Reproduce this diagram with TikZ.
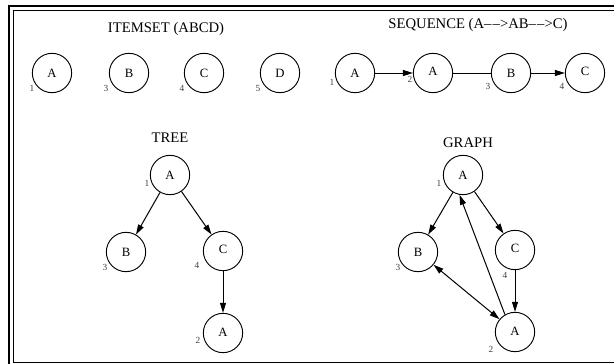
\documentclass[tikz,border=0pt]{standalone}
\usepackage{fontspec}
\setmainfont{Liberation Serif}
\usetikzlibrary{arrows.meta}
\newcommand{\ddash}{\textendash\kern0.9pt\textendash}
\begin{document}
\begin{tikzpicture}[x=0.75pt,y=-0.75pt,
  vtx/.style={circle,draw,line width=0.7pt,minimum size=29.5pt,inner sep=0pt,font=\fontsize{9.5}{11}\selectfont},
  num/.style={inner sep=0pt,font=\fontsize{7}{8}\selectfont,text=black!75},
  ttl/.style={inner sep=0pt,font=\fontsize{11}{13}\selectfont},
  edge/.style={line width=0.75pt},
  arr/.style={edge,-{Triangle[length=7.5pt,width=4.5pt]}},
  darr/.style={edge,{Triangle[length=7.5pt,width=4.5pt]}-{Triangle[length=7.5pt,width=4.5pt]}}]
\useasboundingbox (0,0) rectangle (614,364);
% frame
\draw[line width=1.9pt] (9,364) -- (9,6) -- (614,6);
\draw[line width=0.9pt] (614,10.5) -- (13.5,10.5) -- (13.5,362.5) -- (614,362.5);
% ITEMSET
\node[ttl] (t1) at (166,29) {ITEMSET (ABCD)};
\node[vtx] (iA) at (52,73) {A};
\node[vtx] (iB) at (129,73) {B};
\node[vtx] (iC) at (204,73) {C};
\node[vtx] (iD) at (280,73) {D};
\node[num] (n1) at (32,88) {1};
\node[num] (n2) at (106,88) {3};
\node[num] (n3) at (182,88) {4};
\node[num] (n4) at (258,88) {5};
% SEQUENCE
\node[ttl] (t2) at (478,25) {SEQUENCE (A\ddash>AB\ddash>C)};
\node[vtx] (sA) at (355,73) {A};
\node[vtx] (sA2) at (433,73) {\raisebox{2pt}{A}};
\node[vtx] (sB) at (511,73) {B};
\node[vtx] (sC) at (585,73) {\raisebox{2pt}{C}};
\node[num] (m1) at (332,82) {1};
\node[num] (m2) at (410,79) {2};
\node[num] (m3) at (488,86) {3};
\node[num] (m4) at (562,86) {4};
\draw[arr] (sA) -- (sA2);
\draw[edge] (sA2) -- (sB);
\draw[arr] (sB) -- (sC);
% TREE
\node[ttl] (t3) at (170,138) {TREE};
\node[vtx] (tA) at (170,175) {A};
\node[vtx] (tB) at (126,252) {B};
\node[vtx] (tC) at (223,251) {\raisebox{2pt}{C}};
\node[vtx] (tA2) at (223,333) {\raisebox{1pt}{A}};
\node[num] (k1) at (147,183) {1};
\node[num] (k3) at (105,267) {3};
\node[num] (k4) at (197,265) {4};
\node[num] (k2) at (198,340) {2};
\draw[arr] (tA) -- (tB);
\draw[arr] (tA) -- (tC);
\draw[arr] (tC) -- (tA2);
% GRAPH
\node[ttl] (t4) at (468,143) {GRAPH};
\node[vtx] (gA) at (463,175) {A};
\node[vtx] (gB) at (418,252) {B};
\node[vtx] (gC) at (515,250) {\raisebox{2pt}{C}};
\node[vtx] (gA2) at (515,332) {\raisebox{1pt}{A}};
\node[num] (g1) at (439,183) {1};
\node[num] (g3) at (398,267) {3};
\node[num] (g4) at (505,275) {4};
\node[num] (g2) at (491,349) {2};
\draw[arr] (gA) -- (gB);
\draw[arr] (gA) -- (gC);
\draw[arr] (gC) -- (gA2);
\draw[arr] (gA2.120) -- (gA.260);
\draw[darr] (gB) -- (gA2);
\end{tikzpicture}
\end{document}
